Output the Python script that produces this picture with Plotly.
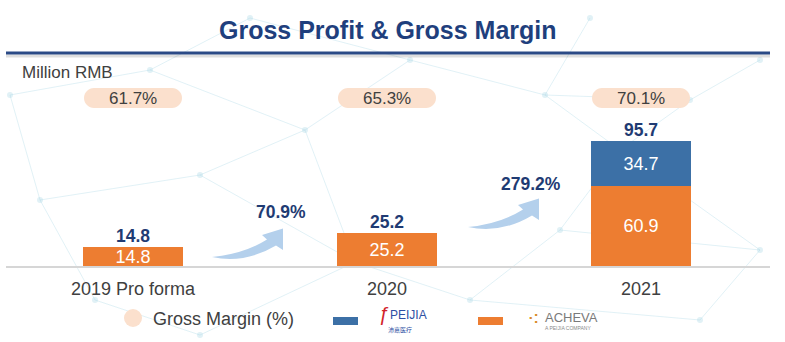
import plotly.graph_objects as go

# ---------------- data ----------------
categories = ["2019 Pro forma", "2020", "2021"]
acheva = [14.8, 25.2, 60.9]          # orange
peijia = [None, None, 34.7]          # blue
totals = [14.8, 25.2, 95.7]          # as reported
gross_margin = ["61.7%", "65.3%", "70.1%"]
growth = ["70.9%", "279.2%"]

# ---------------- styling ----------------
W, H = 785, 342
BASE_PX = 266            # pixel row of the bar baseline (bottom of plot area)
ORANGE = "#ED7D31"
BLUE = "#3C70A6"
NAVY = "#1F3B73"
TITLE = "#1F3F7D"
PILL = "#FBE0CD"
GREY = "#404040"
ARROW = "#B4D0EC"
NET = "rgba(170,215,228,0.35)"
FONT = "Liberation Sans"


def fx(px):
    return px / W


def fy(py):
    return (BASE_PX - py) / BASE_PX


x_idx = list(range(len(categories)))

fig = go.Figure()
fig.add_trace(go.Bar(
    x=x_idx, y=acheva, name="ACHEVA", marker=dict(color=ORANGE, line=dict(width=0)),
    width=0.394, text=[f"{v:.1f}" for v in acheva], textposition="inside",
    insidetextanchor="middle", textfont=dict(color="white", size=18, family=FONT),
    cliponaxis=False, hoverinfo="skip"))
fig.add_trace(go.Bar(
    x=x_idx, y=peijia, name="PEIJIA", marker=dict(color=BLUE, line=dict(width=0)),
    width=0.394, text=[("" if v is None else f"{v:.1f}") for v in peijia],
    textposition="inside", insidetextanchor="middle",
    textfont=dict(color="white", size=18, family=FONT), cliponaxis=False,
    hoverinfo="skip"))

shapes = []
annotations = []

# faint decorative network in the background
net_nodes = [(10, 95), (150, 70), (250, 18), (305, 130), (410, 60), (545, 95), (590, 18),
             (690, 100), (620, 150), (760, 60), (40, 200), (200, 175), (355, 262),
             (470, 300), (760, 250), (200, 335), (700, 320), (560, 230), (95, 300)]
net_edges = [(0, 1), (1, 2), (1, 3), (2, 4), (3, 4), (4, 5), (5, 6), (5, 7), (7, 8), (5, 8),
             (7, 9), (0, 10), (10, 11), (11, 3), (3, 12), (12, 13), (8, 17), (17, 13),
             (17, 14), (8, 14), (12, 15), (10, 18), (18, 15), (13, 16), (14, 16), (11, 12)]
for a, b in net_edges:
    (xa, ya), (xb, yb) = net_nodes[a], net_nodes[b]
    shapes.append(dict(type="line", xref="paper", yref="paper", x0=fx(xa), y0=fy(ya),
                       x1=fx(xb), y1=fy(yb), line=dict(color=NET, width=1), layer="below"))
for (xn, yn) in net_nodes:
    shapes.append(dict(type="circle", xref="paper", yref="paper", x0=fx(xn - 3), x1=fx(xn + 3),
                       y0=fy(yn - 3), y1=fy(yn + 3), fillcolor=NET, line=dict(width=0),
                       layer="below"))

# title + header rule
annotations.append(dict(text="Gross Profit & Gross Margin", x=fx(388), y=fy(30),
                        xref="paper", yref="paper", showarrow=False,
                        xanchor="center", yanchor="middle",
                        font=dict(family=FONT, size=25, color=TITLE, weight="bold")))
shapes.append(dict(type="line", xref="paper", yref="paper", x0=fx(6), x1=fx(770),
                   y0=fy(56), y1=fy(56), line=dict(color="rgba(0,0,0,0.13)", width=3)))
shapes.append(dict(type="line", xref="paper", yref="paper", x0=fx(6), x1=fx(770),
                   y0=fy(53), y1=fy(53), line=dict(color="#2B4A86", width=3)))

annotations.append(dict(text="Million RMB", x=fx(20), y=fy(72), xref="paper", yref="paper",
                        showarrow=False, xanchor="left", yanchor="middle",
                        font=dict(family=FONT, size=17, color=GREY)))

# baseline
shapes.append(dict(type="line", xref="paper", yref="paper", x0=fx(6), x1=fx(770),
                   y0=fy(267), y1=fy(267), line=dict(color="#D6D6D6", width=2)))


def pill_path(cx, cy, w, h):
    r = h / 2
    k = 0.5523 * r
    x0, x1 = cx - w / 2 + r, cx + w / 2 - r
    y0, y1 = cy - r, cy + r
    pts = [
        ("M", [(x0, y0)]),
        ("L", [(x1, y0)]),
        ("C", [(x1 + k, y0), (x1 + r, cy - k), (x1 + r, cy)]),
        ("C", [(x1 + r, cy + k), (x1 + k, y1), (x1, y1)]),
        ("L", [(x0, y1)]),
        ("C", [(x0 - k, y1), (x0 - r, cy + k), (x0 - r, cy)]),
        ("C", [(x0 - r, cy - k), (x0 - k, y0), (x0, y0)]),
    ]
    s = ""
    for cmd, pl in pts:
        s += cmd + " " + " ".join(f"{fx(a):.5f},{fy(b):.5f}" for a, b in pl) + " "
    return s + "Z"


# bar centres in pixels (from x axis mapping below)
X0_PX, STEP_PX = 133, 254
centres = [X0_PX + i * STEP_PX for i in x_idx]

for i, gm in enumerate(gross_margin):
    shapes.append(dict(type="path", xref="paper", yref="paper",
                       path=pill_path(centres[i], 98, 98, 20),
                       fillcolor=PILL, line=dict(width=0), layer="below"))
    annotations.append(dict(text=gm, x=fx(centres[i]), y=fy(98), xref="paper", yref="paper",
                            showarrow=False, xanchor="center", yanchor="middle",
                            font=dict(family=FONT, size=17, color=GREY)))

# totals above bars
for i, t in enumerate(totals):
    annotations.append(dict(text=f"{t:.1f}", x=i, y=t, xref="x", yref="y",
                            showarrow=False, xanchor="center", yanchor="bottom", yshift=-1,
                            font=dict(family=FONT, size=17.5, color=NAVY, weight="bold")))


# curved growth arrows
def arrow_path(dx, dy):
    pts_tail = (212, 257)
    seq = [
        ("M", [pts_tail]),
        ("Q", [(244, 254), (267, 239.5)]),
        ("L", [(262, 235)]),
        ("L", [(283, 228.5)]),
        ("L", [(283, 250)]),
        ("L", [(276, 245.5)]),
        ("Q", [(245, 264), pts_tail]),
    ]
    s = ""
    for cmd, pl in seq:
        s += cmd + " " + " ".join(f"{fx(a + dx):.5f},{fy(b + dy):.5f}" for a, b in pl) + " "
    return s + "Z"


arrow_offsets = [(0, 0), (256, -30)]
growth_pos = [(281, 212), (531, 184)]
for (dx, dy), g, (gx, gy) in zip(arrow_offsets, growth, growth_pos):
    shapes.append(dict(type="path", xref="paper", yref="paper", path=arrow_path(dx, dy),
                       fillcolor=ARROW, line=dict(width=0)))
    annotations.append(dict(text=g, x=fx(gx), y=fy(gy), xref="paper", yref="paper",
                            showarrow=False, xanchor="center", yanchor="middle",
                            font=dict(family=FONT, size=17.5, color=NAVY, weight="bold")))

# manual legend
shapes.append(dict(type="circle", xref="paper", yref="paper", x0=fx(124), x1=fx(142),
                   y0=fy(309), y1=fy(327), fillcolor=PILL, line=dict(width=0)))
annotations.append(dict(text="Gross Margin (%)", x=fx(151), y=fy(319), xref="paper", yref="paper",
                        showarrow=False, xanchor="left", yanchor="middle",
                        font=dict(family=FONT, size=18, color=GREY)))
shapes.append(dict(type="rect", xref="paper", yref="paper", x0=fx(333), x1=fx(358),
                   y0=fy(317), y1=fy(325), fillcolor=BLUE, line=dict(width=0)))
annotations.append(dict(text="<i>ƒ</i>", x=fx(383), y=fy(314), xref="paper", yref="paper",
                        showarrow=False, xanchor="center", yanchor="middle",
                        font=dict(family=FONT, size=20, color="#D2232A")))
annotations.append(dict(text="PEIJIA", x=fx(388), y=fy(315), xref="paper", yref="paper",
                        showarrow=False, xanchor="left", yanchor="middle",
                        font=dict(family=FONT, size=12, color="#2E4FA3")))
annotations.append(dict(text="沛嘉医疗", x=fx(400), y=fy(329), xref="paper", yref="paper",
                        showarrow=False, xanchor="center", yanchor="middle",
                        font=dict(family="Noto Sans CJK SC", size=6, color="#2E4FA3")))
shapes.append(dict(type="rect", xref="paper", yref="paper", x0=fx(478), x1=fx(503),
                   y0=fy(317), y1=fy(325), fillcolor=ORANGE, line=dict(width=0)))
annotations.append(dict(text="⁖", x=fx(533), y=fy(318), xref="paper", yref="paper",
                        showarrow=False, xanchor="center", yanchor="middle",
                        font=dict(family="DejaVu Sans", size=22, color="#D98A2B")))
annotations.append(dict(text="ACHEVA", x=fx(543), y=fy(317), xref="paper", yref="paper",
                        showarrow=False, xanchor="left", yanchor="middle",
                        font=dict(family=FONT, size=13, color="#7A7A7A")))
annotations.append(dict(text="A PEIJIA COMPANY", x=fx(543), y=fy(328), xref="paper", yref="paper",
                        showarrow=False, xanchor="left", yanchor="middle",
                        font=dict(family=FONT, size=5, color="#8A8A8A")))

PX_PER_UNIT = 1.31
fig.update_layout(
    width=W, height=H, margin=dict(l=0, r=0, t=0, b=H - BASE_PX),
    paper_bgcolor="white", plot_bgcolor="rgba(0,0,0,0)",
    barmode="stack", bargap=0, showlegend=False,
    uniformtext=dict(minsize=18, mode="show"),
    shapes=shapes, annotations=annotations,
    xaxis=dict(tickmode="array", tickvals=x_idx, ticktext=categories,
               range=[-X0_PX / STEP_PX, (W - X0_PX) / STEP_PX],
               showgrid=False, zeroline=False, showline=False,
               ticks="outside", ticklen=6, tickcolor="rgba(0,0,0,0)",
               tickfont=dict(family=FONT, size=18, color=GREY), fixedrange=True),
    yaxis=dict(range=[0, BASE_PX / PX_PER_UNIT], visible=False, fixedrange=True),
)

fig.write_html("out.html")
